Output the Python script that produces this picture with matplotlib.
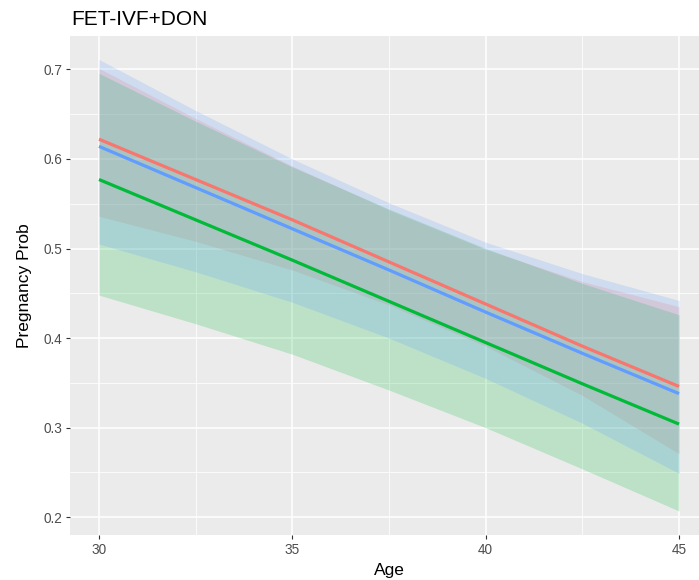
import matplotlib

matplotlib.use("Agg")

import matplotlib.pyplot as plt  # noqa: E402
from matplotlib.ticker import MultipleLocator  # noqa: E402

plt.rcParams["font.family"] = ["Liberation Sans", "DejaVu Sans"]

# values (ages 30..45 every 2.5 years)
AGE = [30, 32.5, 35, 37.5, 40, 42.5, 45]

RED_FIT = [0.622, 0.577, 0.532, 0.485, 0.438, 0.391, 0.346]
RED_LO = [0.536, 0.508, 0.476, 0.437, 0.391, 0.336, 0.271]
RED_HI = [0.701, 0.645, 0.592, 0.543, 0.499, 0.463, 0.435]

BLUE_FIT = [0.614, 0.568, 0.522, 0.476, 0.429, 0.383, 0.338]
BLUE_LO = [0.505, 0.474, 0.440, 0.400, 0.355, 0.305, 0.249]
BLUE_HI = [0.711, 0.654, 0.600, 0.551, 0.507, 0.472, 0.442]

GREEN_FIT = [0.577, 0.532, 0.487, 0.441, 0.395, 0.349, 0.304]
GREEN_LO = [0.448, 0.416, 0.382, 0.342, 0.300, 0.254, 0.207]
GREEN_HI = [0.6955, 0.642, 0.591, 0.544, 0.500, 0.461, 0.426]

SERIES = [
    ("#F8766D", RED_FIT, RED_LO, RED_HI),
    ("#00BA38", GREEN_FIT, GREEN_LO, GREEN_HI),
    ("#619CFF", BLUE_FIT, BLUE_LO, BLUE_HI),
]

W, H = 699, 580
fig = plt.figure(figsize=(W / 100, H / 100), dpi=100)
# panel runs past the right edge (reference image is cropped there)
left, right, top, bottom = 70, 708, 36, 535
ax = fig.add_axes([left / W, 1 - bottom / H, (right - left) / W, (bottom - top) / H])
ax.set_facecolor("#EBEBEB")
for s in ax.spines.values():
    s.set_visible(False)

for col, fit, lo, hi in SERIES:
    ax.fill_between(AGE, lo, hi, color=col, alpha=0.2, lw=0, zorder=2)
for col, fit, lo, hi in SERIES:
    ax.plot(AGE, fit, color=col, lw=2.3, solid_capstyle="butt", zorder=3)

ax.set_xlim(29.25, 45.75)
ax.set_ylim(0.1802, 0.7372)
ax.xaxis.set_major_locator(MultipleLocator(5))
ax.xaxis.set_minor_locator(MultipleLocator(2.5))
ax.yaxis.set_major_locator(MultipleLocator(0.1))
ax.yaxis.set_minor_locator(MultipleLocator(0.05))
ax.set_yticklabels([f"{v:.1f}" for v in ax.get_yticks()])
ax.grid(which="major", color="white", lw=1.1, zorder=0)
ax.grid(which="minor", color="white", lw=0.55, zorder=0)
ax.set_axisbelow(True)
ax.tick_params(which="major", length=2.7, width=0.8, color="#333333",
               labelsize=9.8, labelcolor="#4D4D4D", pad=3)
ax.tick_params(which="minor", length=0)

fig.text(25 / W, 1 - 285.5 / H, "Pregnancy Prob", rotation=90,
         ha="center", va="center", fontsize=12.5, color="black")
fig.text(389 / W, 1 - 570 / H, "Age", ha="center", va="center",
         fontsize=12.5, color="black")
fig.text(71 / W, 1 - 25 / H, "FET-IVF+DON", ha="left", va="baseline",
         fontsize=15, color="black")

fig.savefig("out.png", dpi=100, facecolor="white")
